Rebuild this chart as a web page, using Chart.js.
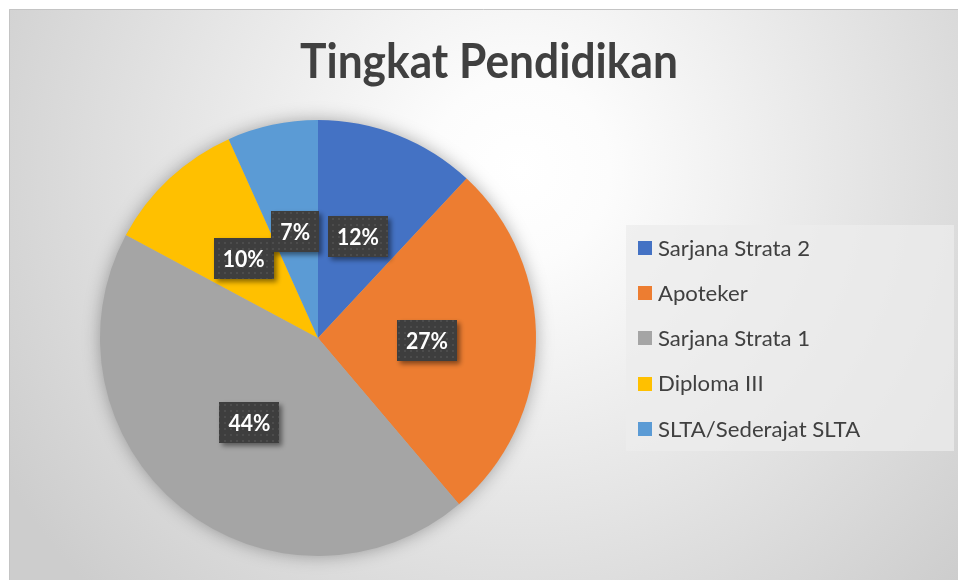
<!DOCTYPE html>
<html>
<head>
<meta charset="utf-8">
<script src="https://cdn.jsdelivr.net/npm/chart.js@4/dist/chart.umd.min.js"></script>
<style>
  html,body{margin:0;padding:0;background:#fff;}
  #wrap{position:absolute;left:0;top:0;width:958px;height:580px;}
</style>
</head>
<body>
<div id="wrap"><canvas id="pie" width="958" height="580"></canvas></div>
<script>
const title = 'Tingkat Pendidikan'
const categories = ['Sarjana Strata 2','Apoteker','Sarjana Strata 1','Diploma III','SLTA/Sederajat SLTA']
const counts = [16, 36, 59, 14, 9]
const colors = ['#4472C4','#ED7D31','#A5A5A5','#FFC000','#5B9BD5']

const FONT = 'Lato, "Open Sans", sans-serif'

// Calibri-like text: set font by height, scale width to fit a sample
function squeeze(ctx, font, sample, target){
  ctx.font = font
  return target / ctx.measureText(sample).width
}

function drawText(ctx, text, x, y, sx, align){
  ctx.save()
  ctx.translate(x, y)
  ctx.scale(sx, 1)
  ctx.textAlign = align
  ctx.fillText(text, 0, 0)
  ctx.restore()
}

function dotPattern(ctx){
  const c = document.createElement('canvas')
  c.width = 6; c.height = 6
  const p = c.getContext('2d')
  p.fillStyle = '#3e3e3e'; p.fillRect(0,0,6,6)
  p.fillStyle = '#4c4c4c'; p.fillRect(2,2,2,2)
  return ctx.createPattern(c, 'repeat')
}

const excelLook = {
  id: 'excelLook',
  beforeDraw(chart){
    const ctx = chart.ctx
    ctx.save()
    ctx.fillStyle = '#fff'
    ctx.fillRect(0,0,chart.width,chart.height)
    const g = ctx.createRadialGradient(520,170,0,520,170,600)
    g.addColorStop(0,'#ffffff')
    g.addColorStop(0.15,'#fcfcfc')
    g.addColorStop(1,'#cdcdcd')
    ctx.fillStyle = g
    ctx.fillRect(9,9,chart.width,chart.height)
    ctx.strokeStyle = '#c4c4c4'
    ctx.lineWidth = 1
    ctx.beginPath()
    ctx.moveTo(9.5,chart.height); ctx.lineTo(9.5,9.5); ctx.lineTo(chart.width,9.5)
    ctx.stroke()
    // title
    const tf = `bold 47px ${FONT}`
    const sx = squeeze(ctx, tf, title, 378)
    ctx.font = tf
    ctx.fillStyle = '#404040'
    ctx.textBaseline = 'alphabetic'
    drawText(ctx, title, 489, 78, sx, 'center')
    ctx.restore()
  },
  beforeDatasetsDraw(chart){
    const arc = chart.getDatasetMeta(0).data[0]
    if(!arc) return
    const ctx = chart.ctx
    ctx.save()
    ctx.shadowColor = 'rgba(0,0,0,0.35)'
    ctx.shadowBlur = 18
    ctx.fillStyle = '#b0b0b0'
    ctx.beginPath()
    ctx.arc(arc.x, arc.y, arc.outerRadius - 1, 0, Math.PI*2)
    ctx.fill()
    ctx.restore()
  },
  afterDatasetsDraw(chart){
    const ctx = chart.ctx
    const data = chart.data.datasets[0].data
    const total = data.reduce((a,b)=>a+b,0)
    const lf = `bold 23px ${FONT}`
    const sx = squeeze(ctx, lf, '12%', 42)
    const pat = dotPattern(ctx)
    chart.getDatasetMeta(0).data.forEach((arc,i) => {
      const txt = Math.round(data[i]/total*100) + '%'
      const {x,y} = arc.getCenterPoint()
      ctx.save()
      ctx.font = lf
      const w = ctx.measureText(txt).width * sx + 18, h = 41
      ctx.shadowColor = 'rgba(0,0,0,0.45)'
      ctx.shadowBlur = 5
      ctx.shadowOffsetX = 3
      ctx.shadowOffsetY = 3
      ctx.fillStyle = pat
      ctx.fillRect(Math.round(x-w/2), Math.round(y-h/2), Math.round(w), h)
      ctx.shadowColor = 'transparent'
      ctx.fillStyle = '#fff'
      ctx.textBaseline = 'middle'
      drawText(ctx, txt, x, y+1, sx, 'center')
      ctx.restore()
    })
  },
  afterDraw(chart){
    const ctx = chart.ctx
    ctx.save()
    ctx.fillStyle = 'rgba(236,236,236,0.75)'
    ctx.fillRect(626,225,328,226)
    const lf = `normal 21px ${FONT}`
    const sx = squeeze(ctx, lf, 'Sarjana Strata 2', 152)
    ctx.font = lf
    ctx.textBaseline = 'middle'
    chart.data.labels.forEach((lab,i) => {
      const cy = 248 + i*45.2
      ctx.fillStyle = chart.data.datasets[0].backgroundColor[i]
      ctx.fillRect(638, Math.round(cy-7), 14, 14)
      ctx.fillStyle = '#404040'
      drawText(ctx, lab, 658, cy+1, sx, 'left')
    })
    ctx.restore()
  }
}

new Chart(document.getElementById('pie'), {
  type: 'pie',
  data: {
    labels: categories,
    datasets: [{ data: counts, backgroundColor: colors, borderWidth: 0, hoverOffset: 0 }]
  },
  options: {
    responsive: false,
    animation: false,
    layout: { padding: { left: 100, top: 120, right: 422, bottom: 24 } },
    plugins: { legend: {display:false}, title: {display:false}, tooltip: {enabled:false} }
  },
  plugins: [excelLook]
})
</script>
</body>
</html>
